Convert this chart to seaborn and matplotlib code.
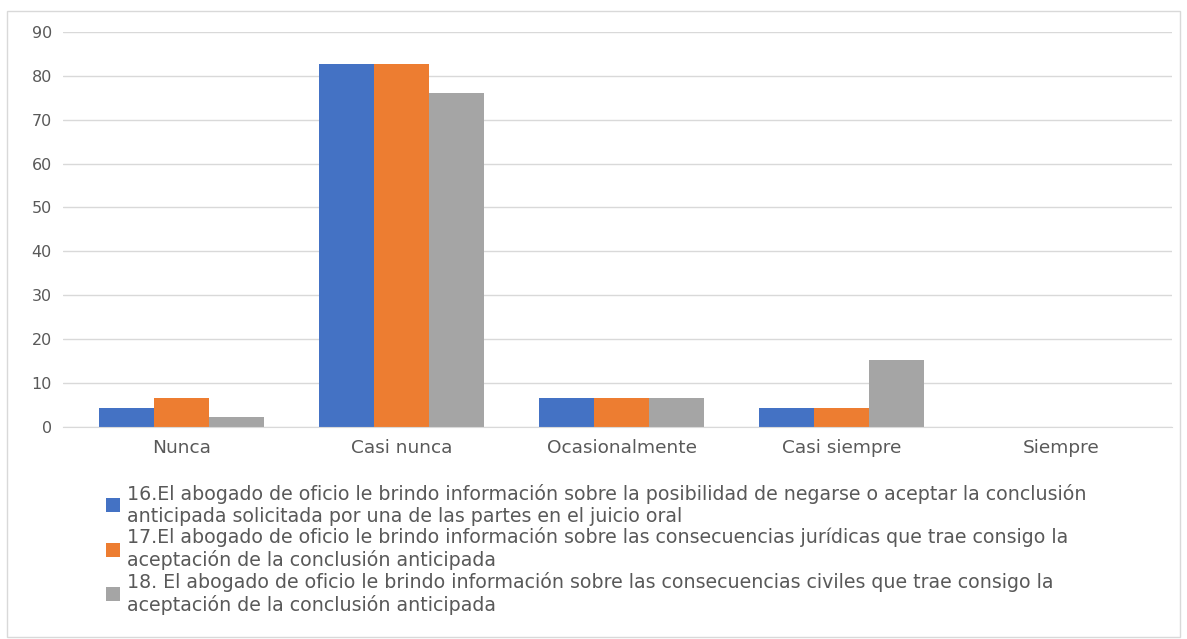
import pandas as pd
import matplotlib.pyplot as plt
import seaborn as sns
from matplotlib.patches import Rectangle

# data
categorias = ["Nunca", "Casi nunca", "Ocasionalmente", "Casi siempre", "Siempre"]
p16 = [4.35, 82.6, 6.52, 4.35, 0]
p17 = [6.52, 82.6, 6.52, 4.35, 0]
p18 = [2.17, 76.1, 6.52, 15.2, 0]
series = [
    "16.El abogado de oficio le brindo información sobre la posibilidad de negarse o aceptar la conclusión\nanticipada solicitada por una de las partes en el juicio oral",
    "17.El abogado de oficio le brindo información sobre las consecuencias jurídicas que trae consigo la\naceptación de la conclusión anticipada",
    "18. El abogado de oficio le brindo información sobre las consecuencias civiles que trae consigo la\naceptación de la conclusión anticipada",
]
colores = ["#4472C4", "#ED7D31", "#A5A5A5"]

df = pd.DataFrame({
    "categoria": categorias * 3,
    "valor": p16 + p17 + p18,
    "serie": [series[0]] * 5 + [series[1]] * 5 + [series[2]] * 5,
})

sns.set_style("white")
plt.rcParams['font.family'] = ['DejaVu Sans']
GRIS = "#595959"

fig = plt.figure(figsize=(11.87, 6.39), dpi=100)
ax = fig.add_axes([0.053, 0.332, 0.934, 0.618])

sns.barplot(data=df, x="categoria", y="valor", hue="serie", palette=colores,
            width=0.75, saturation=1, linewidth=0, ax=ax, legend=True)

ax.set_xlim(-0.54, 4.5)
ax.set_ylim(0, 90)
ax.set_yticks(range(0, 91, 10))
ax.yaxis.grid(True, color="#D9D9D9", linewidth=1)
ax.set_axisbelow(True)
for s in ["top", "right", "left"]:
    ax.spines[s].set_visible(False)
ax.spines["bottom"].set_color("#D9D9D9")
ax.set_xlabel("")
ax.set_ylabel("")
ax.tick_params(axis="both", length=0, labelsize=11.5, colors=GRIS)
ax.tick_params(axis="x", labelsize=13.3, pad=9)
ax.tick_params(axis="y", pad=8)

handles, labels = ax.get_legend_handles_labels()
ax.get_legend().remove()
fig.legend(handles, labels, loc="upper left", bbox_to_anchor=(0.075, 0.27),
           frameon=False, fontsize=13.7, labelcolor=GRIS, handlelength=0.75,
           handleheight=0.75, handletextpad=0.35, labelspacing=0.08)

fig.patches.append(Rectangle((0.006, 0.003), 0.988, 0.98, transform=fig.transFigure,
                             fill=False, edgecolor="#D9D9D9", linewidth=1))

plt.savefig("out.png", dpi=100)
